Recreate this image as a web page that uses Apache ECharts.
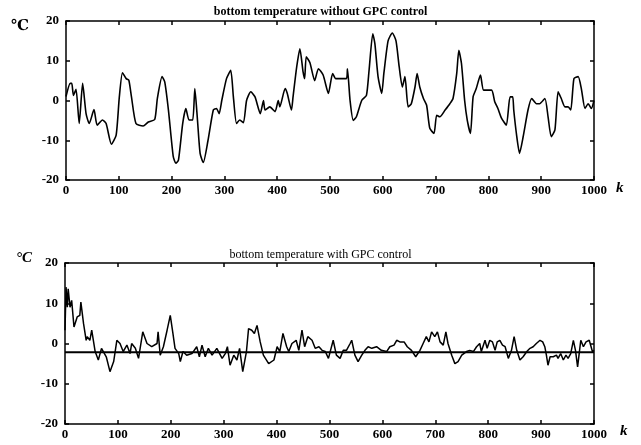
<!DOCTYPE html>
<html><head><meta charset="utf-8">
<script src="https://cdn.jsdelivr.net/npm/echarts@6/dist/echarts.min.js"></script>
<style>html,body{margin:0;padding:0;background:#fff}#c{width:641px;height:445px}</style>
</head><body><div id="c"></div>
<script>
// Top: bottom temperature without GPC control
const topK = [0,8,11,14,19,25,31.5,38,44,53,59,69,76,86,95,101,107,114,119,124,132.5,146,156,168,173,182,187,194,203,208,213,221,227,233,240,244,249,254,260,269,279,285,290,295,304,312,317,323,329,336,342,350,358,368,374,377,386,396,402,405,415,419,427,430,437,443,449,452,455,462,471,478,487,497,505,511,531,533,538,544,550,560,569,574,581,585,591,598,602,610,618,625,631,637,642,648,654,661,665,670,677,683,689,697,702,708,718,727,733,740,744,749,755,760,766,771,777,785,791,806,812,818,825,834,841,846,848,853,859,866,875,882,891,897,907,913,919,926,932,938,945,951,956,962,970,976,983,989,995,1000];
const topV = [1,4.3,4.3,1.3,2.8,-5.8,4.3,-3.3,-5.8,-2.3,-6.2,-4.9,-5.8,-11,-8.7,0.9,7,5.5,5.1,0.9,-5.8,-6.4,-5.4,-4.8,0.5,6,4.7,-2.4,-14,-15.8,-15,-5.8,-2,-4.9,-4.9,3,-4.9,-13.3,-15.6,-10,-2.4,-2,-3.3,0,5.5,7.6,0.9,-5.8,-4.9,-5.6,0,2.2,0.9,-3.3,0,-2.4,-1.6,-2.8,0,-1.6,3,1.8,-2.4,0.9,8.5,13,7.2,5.5,11,9.5,5,8,6.4,1.8,6.8,5.5,5.5,8,0,-5,-4.1,0,1.3,7.6,16.8,14.3,6,1.8,6.8,15,17,15,8.5,3.4,6,-1.6,-0.8,3.4,6.8,3.4,0.5,-1.2,-7,-8.3,-3.7,-4.1,-2.4,-0.8,0.5,6.8,12.6,9.3,0,-5,-8.3,0.9,3,6.4,2.6,2.6,-0.3,-2,-4.5,-6.2,0.9,0.9,-2.4,-8.3,-13.3,-9,-2.4,0.5,-0.8,-0.8,0.5,-4.1,-9.1,-7.4,2.2,0.5,-1.6,-1.6,-2.4,5.5,6,3,-2,-0.8,-2,0];
// Bottom: bottom temperature with GPC control
const botK = [0,2,4.4,6,9.5,12.6,17,23,28,30,35,40,42,47,50.5,57,63,69,78,85,92,98,104,110,117,123,126,133,139,147,155,164,174,176,180,186,193,199,204,208,215,218,223,230,240,249,254,259,265,271,278,287,297,303,307,312,319,325,330,336,343,347,353,358,363,369,375,385,395,401,406,412,419,423,429,437,442,448,453,459,467,473,480,486,492,498,507,513,520,526,532,539,542,548,554,561,567,573,580,589,598,608,614,622,627,633,641,647,655,663,671,677,683,688,693,699,704,709,715,720,724,731,737,743,750,759,765,772,778,784,787,794,798,803,808,813,817,822,827,832,838,844,849,854,860,866,873,879,885,891,898,903,907,910,913,917,923,929,932,937,942,947,951,956,961,965,969,972,975,980,985,991,997,1000];
const botV = [3.3,14,9,13.6,9,10.7,4.1,6.6,7,10.3,5,0.8,1.7,0.8,3.3,-2,-4.1,-1.2,-3.3,-7,-4.5,0.8,0,-2,-0.4,-2.5,0,-1.2,-3.7,2.9,0,-0.8,0,2.9,-2.9,-0.8,3.3,7,2.5,-1.2,-2.5,-4.5,-2,-2.9,-2.5,-0.8,-3.3,-0.4,-3.3,-1.2,-2.9,-1.2,-3.7,-2.5,-0.8,-5.4,-2.9,-4.1,-1.2,-7,-2,3.7,3.3,2.5,4.5,0.4,-2.9,-5,-4.1,-0.8,-2,2.5,-0.8,-2,0,0.8,-1.7,3.3,-0.8,1.7,0.8,-1.2,-0.8,-1.7,-2,-3.7,0.8,-2.9,-3.7,-1.7,-1.7,0,0.8,-2.9,-4.5,-2.9,-1.7,-0.8,-1.2,-0.8,-1.7,-2,-0.8,-0.4,0.8,0.4,0.4,-0.8,-1.7,-3.3,-1.7,0,1.7,0.4,2.9,1.7,2.9,0.4,-0.4,2.9,0,-2.9,-5,-4.5,-2.9,-2,-1.7,-2,-0.8,0,-2,0.8,-1.2,0.8,0.4,-1.7,0.4,0.8,-0.4,-0.8,-3.7,-1.7,1.7,-1.7,-4.1,-3.3,-2,-1.2,-0.8,0,0.8,0.4,-0.8,-2.9,-5.4,-3.3,-3.3,-2.9,-3.7,-2.5,-4.1,-2.9,-3.7,-2.5,0.8,-1.7,-5.8,-2.5,0.8,-0.8,0.4,0.8,-2,-1.7];
// Setpoint reference line in the bottom plot
const refK = [0,1000];
const refV = [-2.2,-2.2];

const zip = (a,b)=>a.map((v,i)=>[v,b[i]]);
const font = '"Liberation Serif","DejaVu Serif",serif';
const grids = [
  {left:66,right:47,top:21,height:159},
  {left:65,right:47,top:263,height:161}
];
const xAxes=[], yAxes=[];
const lineSt = {show:true,onZero:false,lineStyle:{color:'#000',width:1.5}};
const tickSt = {show:true,inside:true,length:4,lineStyle:{color:'#000',width:1.5}};
grids.forEach((g,i)=>{
  const base = {gridIndex:i,type:'value',min:0,max:1000,interval:100,
    axisLine:lineSt,axisTick:tickSt,splitLine:{show:false}};
  xAxes.push(Object.assign({},base,{position:'bottom',
    axisLabel:{show:true,color:'#000',fontFamily:font,fontWeight:'bold',fontSize:13,margin:4,formatter:v=>String(v)}}));
  xAxes.push(Object.assign({},base,{position:'top',axisLabel:{show:false}}));
  const ybase = {gridIndex:i,type:'value',min:-20,max:20,interval:10,
    axisLine:lineSt,axisTick:tickSt,splitLine:{show:false}};
  yAxes.push(Object.assign({},ybase,{position:'left',
    axisLabel:{show:true,color:'#000',fontFamily:font,fontWeight:'bold',fontSize:13,margin:7,formatter:v=>String(v)}}));
  yAxes.push(Object.assign({},ybase,{position:'right',axisLabel:{show:false}}));
});
const chart = echarts.init(document.getElementById('c'),null,{renderer:'canvas'});
chart.setOption({
  animation:false,
  backgroundColor:'#fff',
  grid:grids,
  xAxis:xAxes,
  yAxis:yAxes,
  graphic:[
    {type:'text',left:'center',top:6,style:{text:'bottom temperature without GPC control',font:'bold 12px '+font,fill:'#000'}},
    {type:'text',left:'center',top:249,style:{text:'bottom temperature with GPC control',font:'12px '+font,fill:'#000'}},
    {type:'text',left:11,top:19,style:{text:'℃',font:'bold 15px '+font,fill:'#000'}},
    {type:'text',left:16,top:251,style:{text:'°C',font:'italic bold 15px '+font,fill:'#000'}},
    {type:'text',left:616,top:181,style:{text:'k',font:'italic bold 15px '+font,fill:'#000'}},
    {type:'text',left:620,top:424,style:{text:'k',font:'italic bold 15px '+font,fill:'#000'}}
  ],
  series:[
    {type:'line',xAxisIndex:0,yAxisIndex:0,data:zip(topK,topV),showSymbol:false,smooth:0.2,lineStyle:{color:'#000',width:1.6}},
    {type:'line',xAxisIndex:2,yAxisIndex:2,data:zip(botK,botV),showSymbol:false,lineStyle:{color:'#000',width:1.5}},
    {type:'line',xAxisIndex:2,yAxisIndex:2,data:zip(refK,refV),showSymbol:false,lineStyle:{color:'#000',width:2}}
  ]
});
</script></body></html>
